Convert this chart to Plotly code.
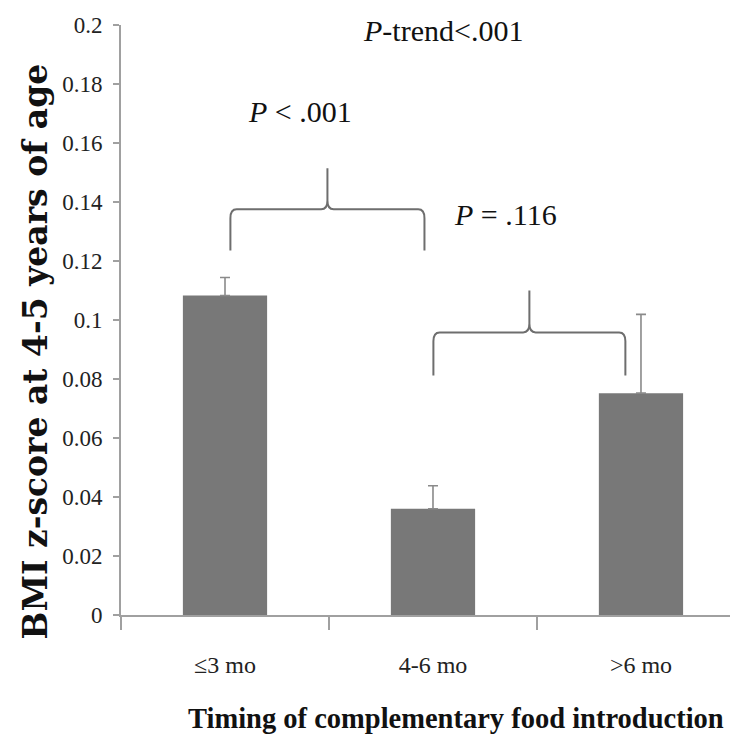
import plotly.graph_objects as go

# ---- data ----
categories = ["≤3 mo", "4-6 mo", ">6 mo"]
bmi_z = [0.1083, 0.0360, 0.0752]
err_plus = [0.0061, 0.0078, 0.0267]
y_ticks = [0, 0.02, 0.04, 0.06, 0.08, 0.1, 0.12, 0.14, 0.16, 0.18, 0.2]
y_tick_text = ["0", "0.02", "0.04", "0.06", "0.08", "0.1", "0.12", "0.14", "0.16", "0.18", "0.2"]

# comparison braces (x in category units, y in BMI z units)
brace_left = [0.026, 1.002]
brace_right = [0.959, 1.925]
brace_base = [0.1236, 0.0812]
brace_mid = [0.1375, 0.0958]
brace_top = [0.1514, 0.1100]
brace_labels = ["<i>P</i> < .001", "<i>P</i> = .116"]
brace_label_x = [0.36, 1.35]
brace_label_y = [0.1708, 0.1356]
trend_label = "<i>P</i>-trend<.001"

FONT = "Liberation Serif"
xpos = list(range(len(categories)))

fig = go.Figure()
fig.add_trace(go.Bar(
    x=xpos, y=bmi_z, width=0.405,
    marker=dict(color="#787878", line=dict(width=0)),
    error_y=dict(type="data", symmetric=False, array=err_plus,
                 arrayminus=[0] * len(err_plus),
                 color="#8a8a8a", thickness=1.6, width=5),
    showlegend=False,
))


def brace_path(x0, x1, yb, ym, yt):
    xm = (x0 + x1) / 2
    rx = 0.03
    ry = 0.003
    return (f"M {x0},{yb} L {x0},{ym - ry} Q {x0},{ym} {x0 + rx},{ym} "
            f"L {xm - rx},{ym} Q {xm},{ym} {xm},{ym + ry} L {xm},{yt} "
            f"L {xm},{ym + ry} Q {xm},{ym} {xm + rx},{ym} "
            f"L {x1 - rx},{ym} Q {x1},{ym} {x1},{ym - ry} L {x1},{yb}")


shapes = []
for i in range(len(brace_left)):
    shapes.append(dict(type="path", xref="x", yref="y",
                       path=brace_path(brace_left[i], brace_right[i], brace_base[i],
                                       brace_mid[i], brace_top[i]),
                       line=dict(color="#6e6e6e", width=2)))

annotations = []
for i in range(len(brace_labels)):
    annotations.append(dict(x=brace_label_x[i], y=brace_label_y[i], xref="x", yref="y",
                            text=brace_labels[i], showarrow=False,
                            font=dict(family=FONT, size=30, color="#111")))
annotations.append(dict(x=1.05, y=0.198, xref="x", yref="y", text=trend_label,
                        showarrow=False, font=dict(family=FONT, size=30, color="#111")))
annotations.append(dict(x=-0.141, y=0.447, xref="paper", yref="paper", textangle=-90,
                        text="<b>BMI z-score at 4-5 years of age</b>", showarrow=False,
                        xanchor="center", yanchor="middle",
                        font=dict(family="DejaVu Serif", size=33, color="#111")))
annotations.append(dict(x=0.55, y=-0.175, xref="paper", yref="paper",
                        text="<b>Timing of complementary food introduction</b>",
                        showarrow=False, xanchor="center", yanchor="middle",
                        font=dict(family=FONT, size=28.5, color="#111")))

fig.update_layout(
    width=730, height=752,
    margin=dict(l=121, r=0, t=25, b=137),
    paper_bgcolor="white", plot_bgcolor="white",
    shapes=shapes, annotations=annotations,
    xaxis=dict(range=[-0.5, 2.428], tickmode="array", tickvals=xpos, ticktext=categories,
               ticks="", showline=True, linecolor="#a0a0a0", linewidth=2,
               tickfont=dict(family=FONT, size=24, color="#222"),
               ticklabelstandoff=27, showgrid=False, zeroline=False,
               minor=dict(tickmode="array", tickvals=[-0.5, 0.5, 1.5, 2.5], ticks="outside",
                          ticklen=13, tickcolor="#a0a0a0", tickwidth=1.5, showgrid=False)),
    yaxis=dict(range=[0, 0.2], tickmode="array", tickvals=y_ticks, ticktext=y_tick_text,
               ticks="outside", ticklen=6, tickcolor="#a0a0a0", tickwidth=1.5,
               showline=True, linecolor="#a0a0a0", linewidth=2,
               tickfont=dict(family=FONT, size=23, color="#222"),
               ticklabelstandoff=6, showgrid=False, zeroline=False),
)

fig.write_html("out.html")
